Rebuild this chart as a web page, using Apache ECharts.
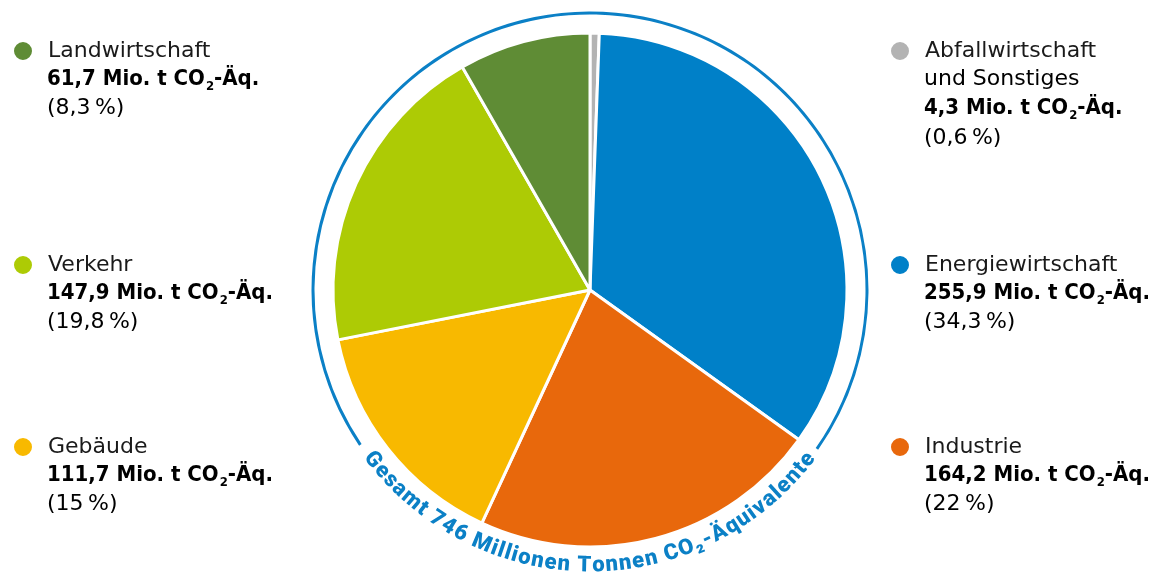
<!DOCTYPE html>
<html>
<head>
<meta charset="utf-8">
<script src="https://cdn.jsdelivr.net/npm/echarts@6/dist/echarts.min.js"></script>
<style>
  html, body { margin: 0; padding: 0; background: #fff; }
  #emissionPie { width: 1154px; height: 576px; }
</style>
</head>
<body>
<div id="emissionPie"></div>
<script>
// Daten (Mio. t CO2-Äquivalente)
const sectors = ['Abfallwirtschaft und Sonstiges', 'Energiewirtschaft', 'Industrie', 'Gebäude', 'Verkehr', 'Landwirtschaft']
const emissions = [4.3, 255.9, 164.2, 111.7, 147.9, 61.7]
const shares = [0.6, 34.3, 22, 15, 19.8, 8.3]
const totalLabel = 'Gesamt 746 Millionen Tonnen CO₂-Äquivalente'

const sectorColors = ['#b3b3b3', '#0080c8', '#e8680c', '#f8b900', '#adcb05', '#5f8c35']
const ringColor = '#0b80c6'
const textColor = '#1a1a1a'
const regularFont = '"DejaVu Sans", Roboto, sans-serif'
const boldFont = '"DejaVu Sans Condensed", "DejaVu Sans", Roboto, sans-serif'

// Position der Legenden (Punktmitte x, Mitte erste Zeile y)
const legendSlots = [
  { x: 899, y: 49 },
  { x: 899, y: 263 },
  { x: 899, y: 445 },
  { x: 22, y: 445 },
  { x: 22, y: 263 },
  { x: 22, y: 49 }
]

const pieCenter = [590, 290]
const ringRadius = 277
const arcTextRadius = 276

const fmtNum = v => v.toFixed(1).replace('.', ',')
const fmtPct = v => String(v).replace('.', ',') + '\u2009%'
const nameLines = name => name.replace(' und ', '\nund ').split('\n')

const chart = echarts.init(document.getElementById('emissionPie'), null, { renderer: 'canvas' })

// Legenden: eine pro Sektor
const legends = sectors.map((name, i) => ({
  data: [name],
  left: legendSlots[i].x - 10,
  top: legendSlots[i].y - 9,
  padding: 0,
  itemWidth: 20,
  itemHeight: 20,
  icon: 'circle',
  selectedMode: false,
  formatter: n => nameLines(n)[0],
  textStyle: { fontSize: 22, color: textColor, fontFamily: regularFont, padding: [0, 0, 0, 10] }
}))

// Detailzeilen unter jedem Legendeneintrag
const lineH = 29.5
const detailTexts = sectors.map((name, i) => {
  const extra = nameLines(name).slice(1).map(t => '{n|' + t + '}')
  const valueLine = '{b|' + fmtNum(emissions[i]) + ' Mio. t CO}{s|2}{b|-Äq.}'
  const lines = extra.concat([valueLine, '{n|(' + fmtPct(shares[i]) + ')}'])
  return {
    type: 'text',
    silent: true,
    x: legendSlots[i].x + 25,
    y: legendSlots[i].y + 30 - lineH / 2,
    style: {
      text: lines.join('\n'),
      verticalAlign: 'top',
      align: 'left',
      rich: {
        n: { fontSize: 22, lineHeight: lineH, color: textColor, fontFamily: regularFont },
        b: { fontSize: 22, lineHeight: lineH, color: textColor, fontFamily: boldFont, fontWeight: 'bold' },
        s: { fontSize: 13, lineHeight: 13, verticalAlign: 'bottom', padding: [0, 0, 1, 1], color: textColor, fontFamily: boldFont, fontWeight: 'bold' }
      }
    }
  }
})

// Gebogene Beschriftung unten am Ring
const arcFont = '900 22px Roboto, sans-serif'
const ctx = document.createElement('canvas').getContext('2d')
ctx.font = arcFont
const chars = Array.from(totalLabel)
const widths = chars.map(c => ctx.measureText(c).width)
let acc = 0
const centers = widths.map(w => { const c = acc + w / 2; acc += w; return c })
const targetSpan = (104 * Math.PI / 180) * arcTextRadius
const naturalSpan = centers[centers.length - 1] - centers[0]
const extraGap = (targetSpan - naturalSpan) / (chars.length - 1)
const arcTexts = chars.map((c, i) => {
  const s = centers[i] - centers[0] + i * extraGap
  const theta = Math.PI / 2 + (targetSpan / 2 - s) / arcTextRadius
  return {
    type: 'text',
    silent: true,
    x: pieCenter[0] + arcTextRadius * Math.cos(theta),
    y: pieCenter[1] + arcTextRadius * Math.sin(theta),
    rotation: Math.PI / 2 - theta,
    style: { text: c, font: arcFont, fill: ringColor, align: 'center', verticalAlign: 'middle' }
  }
})

const option = {
  animation: false,
  legend: legends,
  graphic: detailTexts.concat(arcTexts),
  series: [
    {
      name: 'Ring',
      type: 'gauge',
      silent: true,
      center: pieCenter,
      radius: ringRadius + 1.5,
      startAngle: 214,
      endAngle: -35,
      min: 0,
      max: 1,
      axisLine: { lineStyle: { width: 3, color: [[1, ringColor]] } },
      splitLine: { show: false },
      axisTick: { show: false },
      axisLabel: { show: false },
      pointer: { show: false },
      anchor: { show: false },
      title: { show: false },
      detail: { show: false },
      data: []
    },
    {
      name: 'Emissionen',
      type: 'pie',
      center: pieCenter,
      radius: 257,
      startAngle: 90,
      clockwise: true,
      label: { show: false },
      labelLine: { show: false },
      emphasis: { disabled: true },
      itemStyle: { borderColor: '#fff', borderWidth: 3 },
      data: sectors.map((name, i) => ({ name, value: emissions[i], itemStyle: { color: sectorColors[i] } }))
    }
  ]
}

chart.setOption(option)
</script>
</body>
</html>
